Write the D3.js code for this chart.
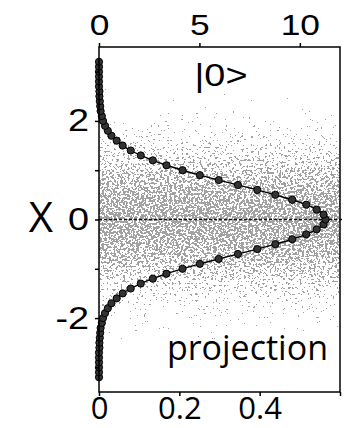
<!DOCTYPE html>
<html>
<head>
<meta charset="utf-8">
<script src="https://cdn.jsdelivr.net/npm/d3@7/dist/d3.min.js"></script>
<style>
body { margin: 0; background: #fff; }
</style>
</head>
<body>
<div class="chart"></div>
<script>
// measured projection of |0> : position X (vertical) and probability (bottom axis)
var positions = [-3.2, -3.1, -3.0, -2.9, -2.8, -2.7, -2.6, -2.5, -2.4, -2.3, -2.2, -2.1,
    -2.0, -1.9, -1.8, -1.7, -1.6, -1.5, -1.4, -1.3, -1.2, -1.1, -1.0, -0.9, -0.8, -0.7,
    -0.6, -0.5, -0.4, -0.3, -0.2, -0.1, 0, 0.1, 0.2, 0.3, 0.4, 0.5, 0.6, 0.7, 0.8, 0.9,
    1.0, 1.1, 1.2, 1.3, 1.4, 1.5, 1.6, 1.7, 1.8, 1.9, 2.0, 2.1, 2.2, 2.3, 2.4, 2.5, 2.6,
    2.7, 2.8, 2.9, 3.0, 3.1, 3.2];
var projection = [0, 0, 0, 0, 0, 0, 0.001, 0.001, 0.002, 0.003, 0.004, 0.007,
    0.010, 0.015, 0.022, 0.031, 0.044, 0.059, 0.079, 0.104, 0.134, 0.168, 0.208, 0.251, 0.298, 0.346,
    0.394, 0.439, 0.481, 0.516, 0.542, 0.559, 0.564, 0.559, 0.542, 0.516, 0.481, 0.439, 0.394, 0.346, 0.298, 0.251,
    0.208, 0.168, 0.134, 0.104, 0.079, 0.059, 0.044, 0.031, 0.022, 0.015, 0.010, 0.007, 0.004, 0.003, 0.002, 0.001, 0.001,
    0, 0, 0, 0, 0, 0];

// how densely the gray samples cover the plot at each X
var cloudX = [-3, -2.75, -2.5, -2.25, -2, -1.75, -1.5, -1.25, -1, -0.75, -0.5, -0.25, 0,
    0.25, 0.5, 0.75, 1, 1.25, 1.5, 1.75, 2, 2.25, 2.5, 2.75, 3];
var cloudDensity = [0, 0.001, 0.004, 0.01, 0.02, 0.04, 0.08, 0.15, 0.28, 0.42, 0.52, 0.57, 0.6,
    0.57, 0.52, 0.42, 0.28, 0.15, 0.08, 0.04, 0.02, 0.01, 0.004, 0.001, 0];

var topTicks = [0, 5, 10];
var bottomTicks = [0, 0.2, 0.4, 0.6];
var bottomLabels = ["0", "0.2", "0.4", ""];
var leftTicks = [-3, -2, -1, 0, 1, 2, 3];
var leftLabels = ["", "-2", "", "0", "", "2", ""];

var drawChart = function () {
    var left = 99, right = 340, top = 47, bottom = 392;
    var stretch = 1.22; // the original figure is a little wider than tall

    var svg = d3.select(".chart").append("svg")
        .attr("width", 349)
        .attr("height", 428);

    var xTop = d3.scaleLinear().domain([0, 12]).range([left, right]);
    var xProb = d3.scaleLinear().domain([0, 0.6]).range([left, right]);
    var y = d3.scaleLinear().domain([-3.5, 3.5]).range([bottom, top]);

    var defs = svg.append("defs");

    // vertical fade of the sample cloud
    var grad = defs.append("linearGradient")
        .attr("id", "cloudFade")
        .attr("gradientUnits", "userSpaceOnUse")
        .attr("x1", 0).attr("x2", 0)
        .attr("y1", top).attr("y2", bottom);
    var stops = cloudX.map(function (d, i) {
        return { off: (y(d) - top) / (bottom - top), a: cloudDensity[i] };
    }).sort(function (a, b) { return a.off - b.off; });
    grad.selectAll("stop").data(stops).enter().append("stop")
        .attr("offset", function (d) { return d.off; })
        .attr("stop-color", "#000")
        .attr("stop-opacity", function (d) { return d.a; });

    // stipple texture: a pixel is a dot when the noise is below the local density
    var s = 0.12;
    var erf = function (x) {
        var t = 1 / (1 + 0.3275911 * Math.abs(x));
        var r = 1 - (((((1.061405429 * t - 1.453152027) * t) + 1.421413741) * t - 0.284496736) * t + 0.254829592) * t * Math.exp(-x * x);
        return x >= 0 ? r : -r;
    };
    var cdf = d3.range(21).map(function (i) {
        return (0.5 * (1 + erf((i / 20 - 0.5) / (s * Math.SQRT2)))).toFixed(4);
    }).join(" ");

    var f = defs.append("filter")
        .attr("id", "stipple")
        .attr("filterUnits", "userSpaceOnUse")
        .attr("x", left).attr("y", top)
        .attr("width", right - left).attr("height", bottom - top)
        .attr("color-interpolation-filters", "sRGB");
    f.append("feTurbulence")
        .attr("type", "fractalNoise")
        .attr("baseFrequency", "0.43 0.47")
        .attr("numOctaves", 2)
        .attr("seed", 5)
        .attr("result", "noise");
    f.append("feComponentTransfer").attr("in", "noise").attr("result", "u")
        .append("feFuncR").attr("type", "table").attr("tableValues", cdf);
    f.append("feColorMatrix").attr("in", "u").attr("type", "matrix")
        .attr("values", "0 0 0 0 0  0 0 0 0 0  0 0 0 0 0  1 0 0 0 0")
        .attr("result", "uA");
    f.append("feComposite").attr("in", "SourceGraphic").attr("in2", "uA")
        .attr("operator", "arithmetic")
        .attr("k1", 0).attr("k2", 1).attr("k3", -1).attr("k4", 0.499)
        .attr("result", "diff");
    f.append("feComponentTransfer").attr("in", "diff").attr("result", "mask")
        .append("feFuncA").attr("type", "discrete").attr("tableValues", "0 1");
    f.append("feFlood").attr("flood-color", "#a2a2a2").attr("result", "grey");
    f.append("feComposite").attr("in", "grey").attr("in2", "mask").attr("operator", "in");

    svg.append("rect")
        .attr("x", left).attr("y", top)
        .attr("width", right - left).attr("height", bottom - top)
        .attr("fill", "url(#cloudFade)")
        .attr("filter", "url(#stipple)");

    // dashed line at X = 0
    svg.append("line")
        .attr("x1", left).attr("x2", right + 3)
        .attr("y1", y(0)).attr("y2", y(0))
        .attr("stroke", "#111")
        .attr("stroke-width", 1.6)
        .attr("stroke-dasharray", "3,2");

    var pts = positions.map(function (d, i) { return { x: d, p: projection[i] }; });

    var line = d3.line()
        .x(function (d) { return xProb(d.p); })
        .y(function (d) { return y(d.x); })
        .curve(d3.curveMonotoneY);

    svg.append("path")
        .datum(pts)
        .attr("d", line)
        .attr("fill", "none")
        .attr("stroke", "#000")
        .attr("stroke-width", 1.4);

    svg.selectAll("circle")
        .data(pts)
        .enter()
        .append("circle")
        .attr("cx", function (d) { return xProb(d.p); })
        .attr("cy", function (d) { return y(d.x); })
        .attr("r", 3.6)
        .attr("fill", "#333")
        .attr("stroke", "#000")
        .attr("stroke-width", 1);

    // frame
    svg.append("rect")
        .attr("x", left).attr("y", top)
        .attr("width", right - left).attr("height", bottom - top)
        .attr("fill", "none")
        .attr("stroke", "#000")
        .attr("stroke-width", 1.5);

    var styleAxis = function (g, family, size) {
        g.select(".domain").remove();
        g.selectAll(".tick line").attr("stroke", "#000").attr("stroke-width", 1.5);
        g.selectAll("text").attr("fill", "#000")
            .style("font-family", family).style("font-size", size + "px");
    };

    var topAxis = svg.append("g")
        .attr("transform", "translate(0," + top + ")")
        .call(d3.axisTop(xTop).tickValues(topTicks).tickSize(4).tickPadding(8))
        .call(styleAxis, "'Liberation Sans', Arial, sans-serif", 29);
    topAxis.selectAll("text").attr("transform", "scale(" + stretch + ",1)");

    svg.append("g")
        .attr("transform", "translate(0," + bottom + ")")
        .call(d3.axisBottom(xProb).tickValues(bottomTicks).tickSize(4).tickPadding(1)
            .tickFormat(function (d, i) { return bottomLabels[i]; }))
        .call(styleAxis, "'Open Sans', sans-serif", 31);

    var leftAxis = svg.append("g")
        .attr("transform", "translate(" + left + ",0)")
        .call(d3.axisLeft(y).tickValues(leftTicks).tickSize(4).tickPadding(6)
            .tickFormat(function (d, i) { return leftLabels[i]; }))
        .call(styleAxis, "'Liberation Sans', Arial, sans-serif", 31);
    leftAxis.selectAll("text")
        .attr("x", -10 / stretch)
        .attr("transform", "scale(" + stretch + ",1)");

    svg.append("text")
        .attr("x", 41).attr("y", 232)
        .attr("text-anchor", "middle")
        .style("font-family", "'Open Sans', sans-serif")
        .style("font-size", "42px")
        .text("X");

    svg.append("text")
        .attr("transform", "translate(221,86) scale(" + stretch + ",1)")
        .attr("text-anchor", "middle")
        .style("font-family", "'Liberation Sans', Arial, sans-serif")
        .style("font-size", "31px")
        .text("|0>");

    svg.append("text")
        .attr("x", 328).attr("y", 360)
        .attr("text-anchor", "end")
        .style("font-family", "'Open Sans', sans-serif")
        .style("font-size", "34px")
        .text("projection");
};

drawChart();
</script>
</body>
</html>
